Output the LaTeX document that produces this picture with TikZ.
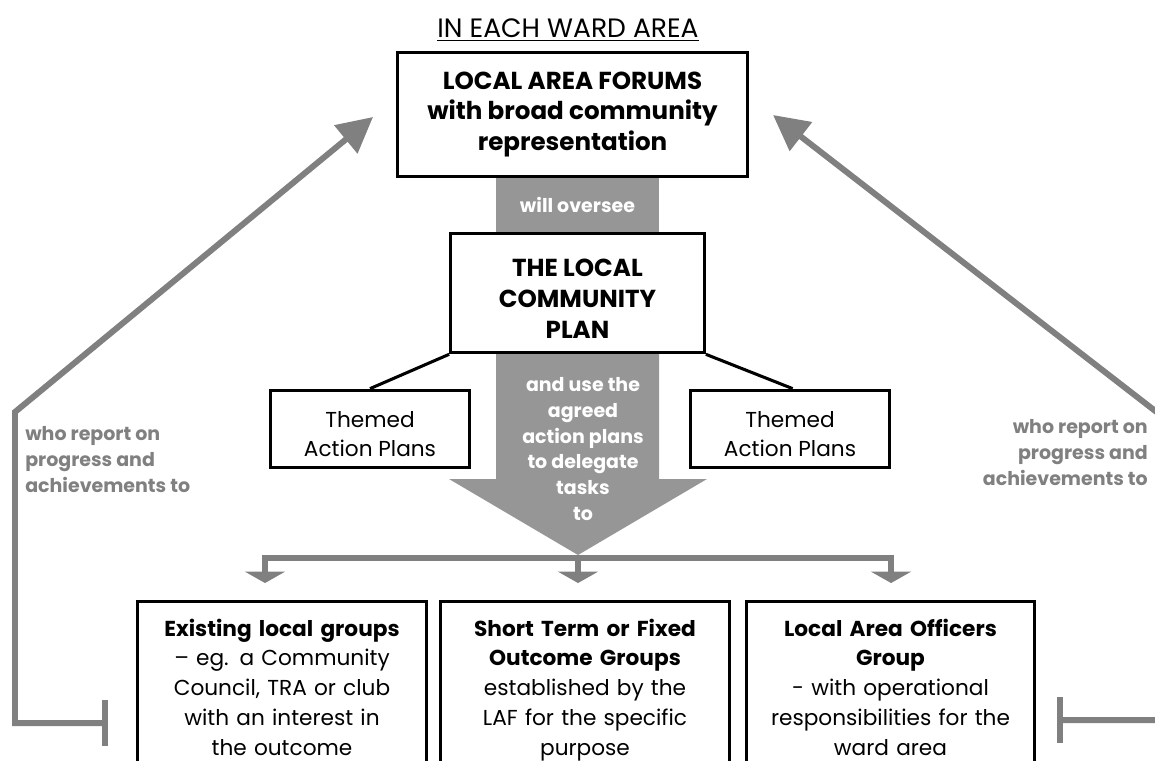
\documentclass[tikz,border=0pt]{standalone}
\usepackage{fontspec}
\setmainfont{Poppins}
\usetikzlibrary{arrows.meta}
\definecolor{linegray}{RGB}{128,128,128}
\definecolor{fillgray}{RGB}{150,150,150}

\begin{document}
\begin{tikzpicture}[scale=0.2646]
\tikzstyle{every node}+=[inner sep=0pt, align=center]
\tikzstyle{box}=[draw=black, line width=2.3pt, fill=white]
\tikzstyle{big}=[font=\fontsize{18.5}{23.25}\selectfont\bfseries]
\tikzstyle{plain}=[font=\fontsize{16.3}{22.4}\selectfont]
\tikzstyle{note}=[font=\fontsize{14.3}{19.5}\selectfont\bfseries]
\tikzstyle{feed}=[draw=linegray, line width=4.5pt]
\tikzstyle{drop}=[-{Triangle[length=8.6pt,width=30pt]}]
\tikzstyle{report}=[{Bar[width=34.5pt]}-{Triangle[length=26.6pt,width=26.6pt]}]
\useasboundingbox (0,0) rectangle (115.5,-76);
\clip (0,0) rectangle (115.5,-76);
\node[font=\fontsize{20}{24}\selectfont] (ward) at (56.8,-3.0) {\underline{IN EACH WARD AREA}};
% oversee band and delegate arrow
\node[fill=fillgray, minimum width=122pt, minimum height=42pt, note, text=white] (oversee) at (57.75,-20.5) {will oversee};
\fill[fillgray] (49.6,-35.3) -- (65.9,-35.3) -- (65.9,-47.9) -- (70.7,-47.9) -- (57.8,-55.5) -- (44.9,-47.9) -- (49.6,-47.9) -- cycle;
\node[note, text=white] (tasks) at (58.3,-44.9) {and use the\\ agreed\\ action plans\\ to delegate\\ tasks\\ to};
% boxes
\node[box, big, minimum width=263pt, minimum height=94pt] (laf) at (57.25,-11.45) {LOCAL AREA FORUMS\\ with broad community\\ representation};
\node[box, big, minimum width=191pt, minimum height=90pt, text height=68.5pt] (plan) at (57.75,-29.3) {THE LOCAL\\ COMMUNITY\\ PLAN};
\node[box, plain, minimum width=150pt, minimum height=58.5pt, text height=42pt] (themeL) at (37,-42.9) {Themed\\ Action Plans};
\node[box, plain, minimum width=150pt, minimum height=58.5pt, text height=42pt] (themeR) at (79,-42.9) {Themed\\ Action Plans};
\draw[black, line width=2.3pt] (plan.south west) -- (themeL.north);
\draw[black, line width=2.3pt] (plan.south east) -- ([xshift=7.5pt]themeR.north);
% distribution to the groups
\coordinate (split) at (57.8,-55.8);
\coordinate (inL) at (26.5,-58.3);
\coordinate (inM) at (57.8,-58.3);
\coordinate (inR) at (89.1,-58.3);
\draw[feed, drop] (split) -| (inL);
\draw[feed, drop] (split) -| (inR);
\draw[feed, drop] (split) -- (inM);
\node[box, plain, anchor=north, text width=217.5pt, inner ysep=13pt] (existing) at (28.2,-60) {\textbf{Existing local groups}\\ – eg. a Community\\ Council, TRA or club\\ with an interest in\\ the outcome};
\node[box, plain, anchor=north, text width=217.5pt, inner ysep=13pt] (shortterm) at (58.5,-60) {\textbf{Short Term or Fixed}\\ \textbf{Outcome Groups}\\ established by the\\ LAF for the specific\\ purpose};
\node[box, plain, anchor=north, text width=217.5pt, inner ysep=13pt] (officers) at (89.05,-60) {\textbf{Local Area Officers}\\ \textbf{Group}\\ - with operational\\ responsibilities for the\\ ward area};
% reporting back
\coordinate (barL) at (10.8,-72.3);
\coordinate (tipL) at (37.3,-11.7);
\coordinate (barR) at (105.7,-72.0);
\coordinate (tipR) at (77.3,-11.5);
\draw[feed, report] (barL) -| (1.5,-41.2) -- (tipL);
\draw[feed, report] (barR) -| (116.3,-41.7) -- (tipR);
\node[note, text=linegray, align=left, anchor=west] (reportL) at (2.5,-45.95) {who report on\\ progress and\\ achievements to};
\node[note, text=linegray, align=right, anchor=east] (reportR) at (114.8,-45.25) {who report on\\ progress and\\ achievements to};
\end{tikzpicture}
\end{document}
